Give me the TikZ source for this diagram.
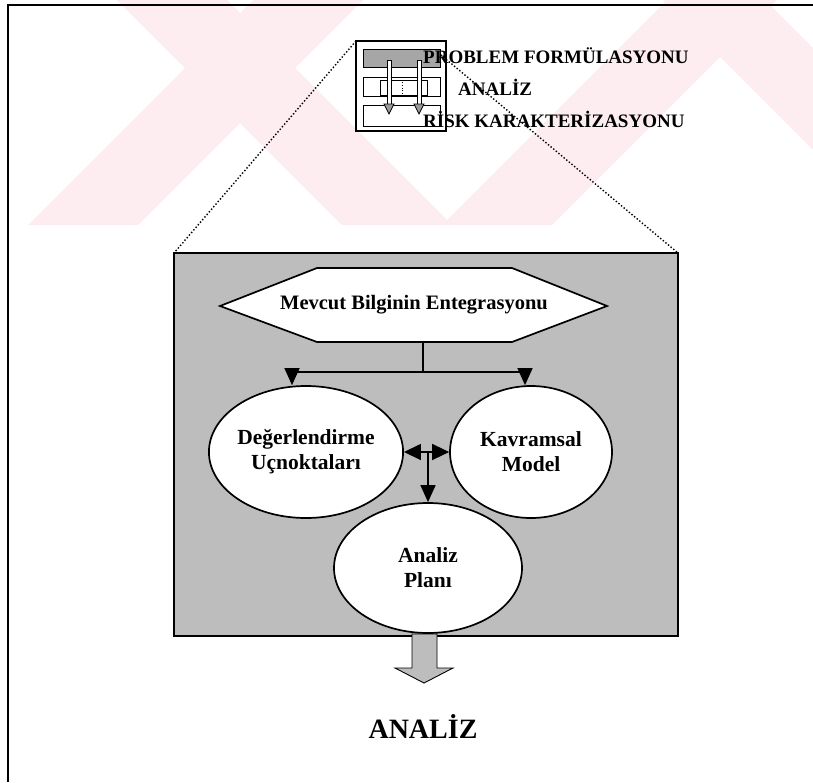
\documentclass[tikz,border=0pt]{standalone}
\usepackage{fontspec}
\setmainfont{Liberation Serif}
\usetikzlibrary{arrows.meta,shapes.geometric}
\definecolor{wmpink}{HTML}{FDEDF0}
\definecolor{panelgray}{gray}{0.74}
\begin{document}
\begin{tikzpicture}[x=1pt,y=-1pt,
  ell/.style={ellipse, draw, line width=1.7pt, fill=white, inner sep=0pt, font=\fontsize{21.5}{25}\selectfont\bfseries, align=center},
  lbl/.style={font=\fontsize{19}{20}\selectfont\bfseries, anchor=west, inner sep=0pt},
  conn/.style={line width=1.5pt},
  tri/.style={-{Triangle[length=17pt,width=15pt]}},
  dtri/.style={{Triangle[length=17pt,width=16pt]}-{Triangle[length=17pt,width=16pt]}},
  dots/.style={dotted, line width=1.4pt},
]
\useasboundingbox (0,0) rectangle (813,782);
% faint watermark band
\begin{scope}
\clip (0,0) rectangle (813,225);
\fill[wmpink] (28,225)--(138,225)--(363,0)--(253,0)--cycle;
\fill[wmpink] (117,0)--(227,0)--(452,225)--(342,225)--cycle;
\fill[wmpink] (667,0)--(777,0)--(552,225)--(442,225)--cycle;
\fill[wmpink] (663,0)--(765,0)--(990,225)--(888,225)--cycle;
\end{scope}
% page frame
\draw[line width=1.8pt] (8,782) -- (8,5) -- (813,5);
% zoomed panel
\fill[panelgray] (174,253) rectangle (678,636);
\draw[line width=1.3pt] (174,253) rectangle (678,636);
% small overview icon
\draw[line width=2pt] (356,41) rectangle (446,131);
\filldraw[fill=black!35, line width=1pt] (363,49) rectangle (440,67);
\draw[line width=1pt] (363,77) rectangle (440,96);
\draw[line width=0.8pt] (380,80) rectangle (427,95);
\draw[dotted, line width=0.8pt] (402,82) -- (402,94);
\draw[line width=1pt] (363,105) rectangle (440,126);
\foreach \ax in {389,419}{
  \filldraw[fill=white, line width=0.8pt] (\ax-2,60) rectangle (\ax+2,104);
  \filldraw[fill=black!40, line width=0.8pt] (\ax-5,104) -- (\ax+5,104) -- (\ax,114) -- cycle;
}
\node[lbl] (pf) at (423,56) {PROBLEM FORMÜLASYONU};
\node[lbl] (an) at (458,87) {ANALİZ};
\node[lbl] (rk) at (423,119) {RİSK KARAKTERİZASYONU};
% zoom lines
\coordinate (iconTL) at (356,41);
\coordinate (iconTR) at (441,55);
\coordinate (panTL) at (174,253);
\coordinate (panTR) at (678,253);
\draw[dots] (iconTL) -- (panTL);
\draw[dots] (iconTR) -- (panTR);
% hexagon
\draw[line width=1.7pt, fill=white] (220,306)--(317,268)--(512,268)--(607,306)--(512,342)--(317,342)--cycle;
\node[font=\fontsize{20.5}{24}\selectfont\bfseries] (hex) at (414,305) {Mevcut Bilginin Entegrasyonu};
\coordinate (hexb) at (423,342);
\coordinate (j) at (423,372);
\coordinate (jl) at (292,372);
\coordinate (jr) at (525,372);
% ellipses
\node[ell, minimum width=176pt, minimum height=132pt] (L) at (306,452) {Değerlendirme\\Uçnoktaları};
\node[ell, minimum width=162pt, minimum height=132pt] (R) at (531,452) {Kavramsal\\Model};
\node[ell, minimum width=188pt, minimum height=130pt] (P) at (428,568) {Analiz\\Planı};
% connectors
\draw[conn] (hexb) -- (j);
\draw[conn] (jl) -- (jr);
\draw[conn, tri] (jl) -- (jl |- L.north);
\draw[conn, tri] (jr) -- (jr |- R.north);
\draw[conn, dtri] (L.east) -- (R.west);
\coordinate (mid) at (428,452);
\draw[conn, tri] (mid) -- (P.north);
% output block arrow
\filldraw[fill=panelgray, line width=0.9pt] (412,634)--(437,634)--(437,668)--(453,668)--(424,683)--(395,668)--(412,668)--cycle;
\node[font=\fontsize{28}{30}\selectfont\bfseries] (out) at (423,726) {ANALİZ};
\end{tikzpicture}
\end{document}
